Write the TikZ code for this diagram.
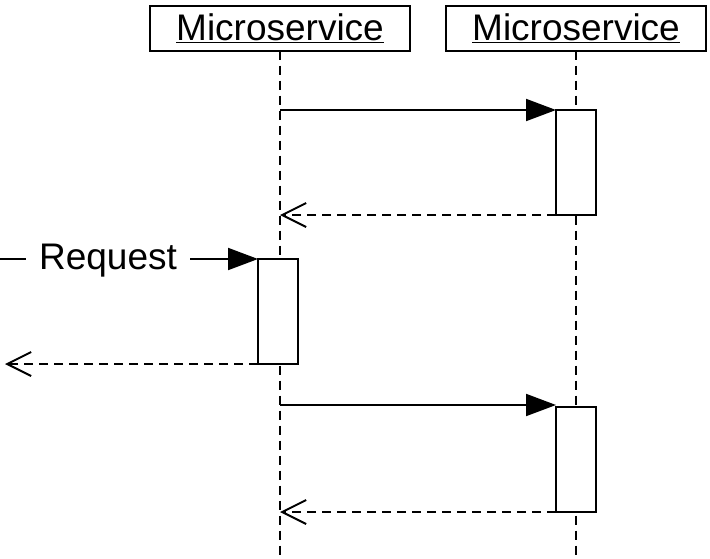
\documentclass[tikz,border=0pt]{standalone}
\usepackage{fontspec}
\setmainfont{Liberation Sans}
\usetikzlibrary{arrows.meta}
\begin{document}
\begin{tikzpicture}[x=1pt,y=-1pt,
  lw/.style={line width=2pt},
  head/.style={draw,lw,fill=white,minimum width=260pt,minimum height=45pt,inner sep=0pt,outer sep=0pt,font=\fontsize{37}{40}\selectfont},
  act/.style={draw,lw,fill=white,minimum width=40pt,minimum height=105pt,inner sep=0pt,outer sep=0pt},
  life/.style={lw,dash pattern=on 9pt off 6pt},
  call/.style={lw,-{Triangle[length=30pt,width=22pt]}},
  ret/.style={lw,dash pattern=on 9pt off 6pt,-{Straight Barb[length=24pt,width=24pt,line width=2pt]}},
  lbl/.style={fill=white,inner xsep=13pt,inner ysep=4pt,font=\fontsize{37}{40}\selectfont}]
\useasboundingbox (0,0) rectangle (710,558);
% lifelines
\coordinate (l1end) at (280,558);
\coordinate (l2end) at (576,558);
\node[head] (h1) at (280,28) {\underline{Microservice}};
\node[head] (h2) at (576,28) {\underline{Microservice}};
\draw[life] (h1.south) -- (l1end);
\draw[life] (h2.south) -- (l2end);
% activations
\node[act,anchor=north] (a1) at (576,110) {};
\node[act,anchor=north] (b1) at (278,259) {};
\node[act,anchor=north] (a2) at (576,407) {};
% messages
\coordinate (s1) at (280,110);
\coordinate (r1) at (280,215);
\draw[call] (s1) -- (a1.north west);
\draw[ret] (a1.south west) -- (r1 |- a1.south west);
\coordinate (q0) at (0,259);
\coordinate (q1) at (5,364);
\draw[call] (q0) -- (b1.north west);
\node[lbl] (req) at (108,261) {Request};
\draw[ret] (b1.south west) -- (q1 |- b1.south west);
\coordinate (s2) at (280,405);
\coordinate (r2) at (280,512);
\draw[call] (s2) -- (a2.north west |- s2);
\draw[ret] (a2.south west) -- (r2 |- a2.south west);
\end{tikzpicture}
\end{document}
